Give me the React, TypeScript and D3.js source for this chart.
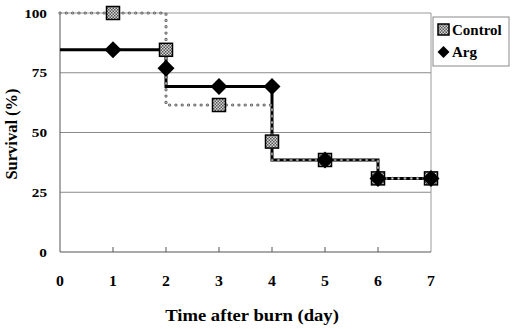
import React from 'react';
import * as d3 from 'd3';

// Survival (%) by day after burn
const markerDays = [1, 2, 3, 4, 5, 6, 7];
const controlMarks = [100, 84.6, 61.5, 46.2, 38.5, 30.8, 30.8];
const argMarks = [84.6, 76.9, 69.2, 69.2, 38.5, 30.8, 30.8];

// Kaplan-Meier style step curves
const stepDays = [0, 2, 4, 6, 7];
const controlSteps = [100, 61.5, 38.5, 30.8, 30.8];
const argSteps = [84.6, 69.2, 38.5, 30.8, 30.8];

const xTicks = [0, 1, 2, 3, 4, 5, 6, 7];
const yTicks = [0, 25, 50, 75, 100];
const seriesNames = ['Control', 'Arg'];

const W = 514;
const H = 329;
const FONT = '"Liberation Serif", "Times New Roman", serif';
const STRETCH = 1.13; // horizontal text widening

const App: React.FC = () => {
  const x = d3.scaleLinear().domain([0, 7]).range([60, 431]);
  const y = d3.scaleLinear().domain([0, 100]).range([252, 13]);

  const step = d3
    .line<[number, number]>()
    .x(d => x(d[0]))
    .y(d => y(d[1]))
    .curve(d3.curveStepAfter);

  const controlPath = step(stepDays.map((d, i) => [d, controlSteps[i]]) as [number, number][]) || '';
  const argPath = step(stepDays.map((d, i) => [d, argSteps[i]]) as [number, number][]) || '';

  const sq = 13;
  const dm = 8.5;
  const diamond = (cx: number, cy: number, r: number) =>
    `M${cx},${cy - r}L${cx + r},${cy}L${cx},${cy + r}L${cx - r},${cy}Z`;

  return (
    <svg
      width={W}
      height={H}
      style={{ position: 'absolute', left: 0, top: 0, background: '#fff' }}
      fontFamily={FONT}
    >
      <defs>
        <pattern id="checker" width="3" height="3" patternUnits="userSpaceOnUse">
          <rect width="3" height="3" fill="#d8d8d8" />
          <rect width="1.5" height="1.5" fill="#555" />
          <rect x="1.5" y="1.5" width="1.5" height="1.5" fill="#555" />
        </pattern>
      </defs>

      {/* frame and gridlines */}
      {yTicks.slice(1, -1).map(t => (
        <line key={t} x1={x(0)} x2={x(7)} y1={y(t)} y2={y(t)} stroke="#8a8a8a" strokeWidth={1} />
      ))}
      <line x1={x(0)} x2={x(7)} y1={y(100)} y2={y(100)} stroke="#9a9a9a" strokeWidth={1} />
      <line x1={x(7)} x2={x(7)} y1={y(100)} y2={y(0)} stroke="#9a9a9a" strokeWidth={1} />
      <line x1={x(0)} x2={x(0)} y1={y(100)} y2={y(0)} stroke="#555" strokeWidth={1} />
      <line x1={x(0)} x2={x(7)} y1={y(0)} y2={y(0)} stroke="#555" strokeWidth={1} />
      {xTicks.slice(1, -1).map(t => (
        <line key={t} x1={x(t)} x2={x(t)} y1={y(0)} y2={y(0) - 5} stroke="#555" strokeWidth={1} />
      ))}

      {/* y tick labels */}
      {yTicks.map(t => (
        <g key={t} transform={`translate(47,${y(t)}) scale(${STRETCH},1)`}>
          <text dy="0.35em" textAnchor="end" fontSize={13.5} fontWeight="bold">
            {t}
          </text>
        </g>
      ))}

      {/* x tick labels */}
      {xTicks.map(t => (
        <g key={t} transform={`translate(${x(t)},286) scale(${STRETCH},1)`}>
          <text textAnchor="middle" fontSize={14} fontWeight="bold">
            {t}
          </text>
        </g>
      ))}

      <g transform={`translate(252,321) scale(${STRETCH},1)`}>
        <text textAnchor="middle" fontSize={16.5} fontWeight="bold">
          Time after burn (day)
        </text>
      </g>
      <text
        transform={`translate(17,${134}) rotate(-90)`}
        textAnchor="middle"
        fontSize={16.5}
        fontWeight="bold"
      >
        Survival (%)
      </text>

      {/* Arg step line */}
      <path d={argPath} fill="none" stroke="#000" strokeWidth={3} />

      {/* Control step line: row of small dots */}
      <path
        d={controlPath}
        fill="none"
        stroke="#666"
        strokeWidth={3.2}
        strokeDasharray="0.1 6.2"
        strokeLinecap="round"
      />
      <path
        d={controlPath}
        fill="none"
        stroke="#ddd"
        strokeWidth={1.2}
        strokeDasharray="0.1 6.2"
        strokeLinecap="round"
      />

      {/* Control markers */}
      {markerDays.map((d, i) => (
        <rect
          key={`c${d}`}
          x={x(d) - sq / 2}
          y={y(controlMarks[i]) - sq / 2}
          width={sq}
          height={sq}
          fill="url(#checker)"
          stroke="#000"
          strokeWidth={1.5}
        />
      ))}

      {/* Arg markers */}
      {markerDays.map((d, i) => (
        <path key={`a${d}`} d={diamond(x(d), y(argMarks[i]), dm)} fill="#000" />
      ))}

      {/* legend */}
      <rect x={433} y={17} width={76} height={49} fill="#fff" stroke="#8a8a8a" strokeWidth={1} />
      <rect x={438} y={24} width={11} height={11} fill="url(#checker)" stroke="#000" strokeWidth={1.5} />
      <path d={diamond(443.5, 52, 6)} fill="#000" />
      {seriesNames.map((n, i) => (
        <text key={n} x={452} y={i === 0 ? 35 : 57} fontSize={15} fontWeight="bold">
          {n}
        </text>
      ))}
    </svg>
  );
};

export default App;
